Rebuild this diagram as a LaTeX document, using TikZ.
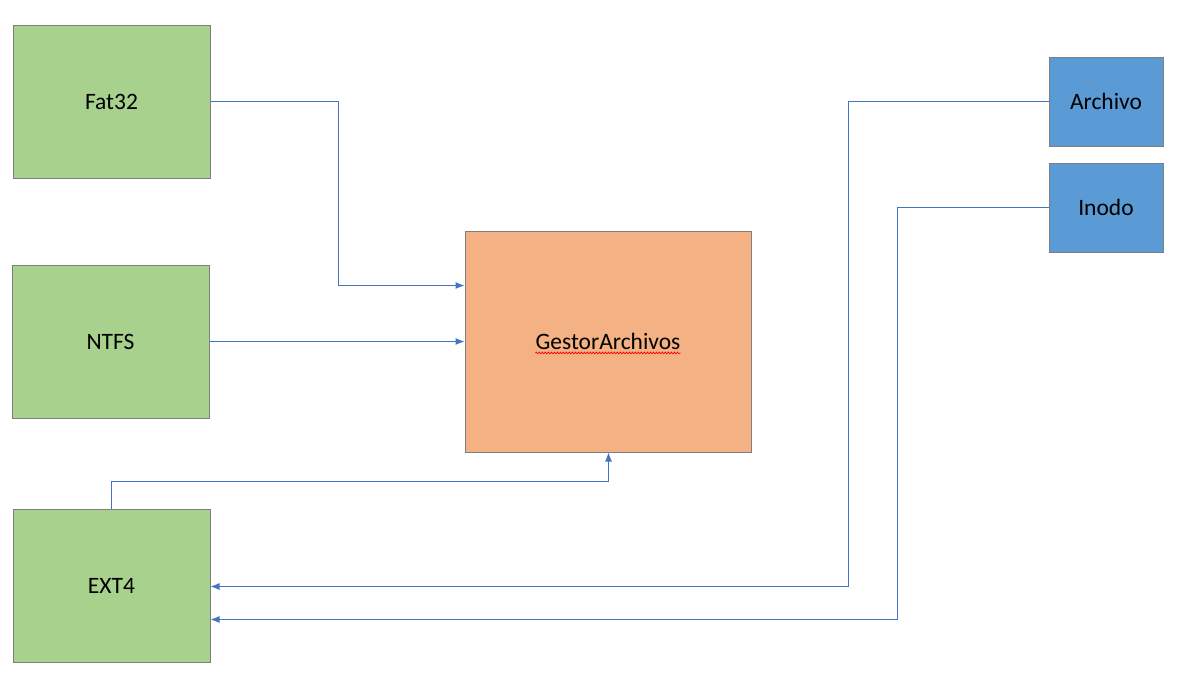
\documentclass[tikz,border=0pt]{standalone}
\usepackage{fontspec}
\setmainfont{Carlito}
\usetikzlibrary{arrows.meta,decorations.pathmorphing}
\definecolor{boxgreen}{HTML}{A9D18E}
\definecolor{boxorange}{HTML}{F4B183}
\definecolor{boxblue}{HTML}{5B9BD5}
\definecolor{boxline}{HTML}{7F7F7F}
\definecolor{connblue}{HTML}{4472C4}
\begin{document}
\begin{tikzpicture}[x=1pt,y=-1pt,
  box/.style={draw=boxline, line width=1pt, inner sep=0pt, font=\fontsize{23.5}{28}\selectfont},
  fsbox/.style={box, fill=boxgreen, minimum width=197pt, minimum height=153pt},
  gestbox/.style={box, fill=boxorange, minimum width=286pt, minimum height=221pt},
  clsbox/.style={box, fill=boxblue, minimum width=114pt, minimum height=89pt},
  conn/.style={draw=connblue, line width=1.1pt},
  arr/.style={conn, -{Latex[length=9pt,width=7pt]}}]
\useasboundingbox (0,0) rectangle (1201,673);
\node[fsbox] (fat) at (111.5,101.5) {Fat32};
\node[fsbox] (ntfs) at (110.5,341.5) {NTFS};
\node[fsbox] (ext) at (111.5,585.5) {EXT4};
\node[gestbox] (gest) at (608,341.5) {};
\node[font=\fontsize{23.5}{28}\selectfont, inner sep=0pt] (gtext) at (608,341.5) {GestorArchivos};
\draw[red, line width=0.7pt, decorate, decoration={snake, amplitude=0.9pt, segment length=3pt}] (gtext.south west) ++(0,3) coordinate (sq1) -- (sq1 -| gtext.south east);
\node[clsbox] (arch) at (1106,101.5) {Archivo};
\node[clsbox] (inodo) at (1106,207.5) {Inodo};
\coordinate (fj) at (338.5,285.5);
\coordinate (ej) at (608.5,481.5);
\coordinate (aj) at (848.5,586.5);
\coordinate (ij) at (897.5,619.5);
\draw[arr] (fat.east) -| (fj) -- (fj -| gest.west);
\draw[arr] (ntfs.east) -- (ntfs.east -| gest.west);
\draw[arr] (ext.north) |- (ej) -- (ej |- gest.south);
\draw[arr] (arch.west) -| (aj) -- (aj -| ext.east);
\draw[arr] (inodo.west) -| (ij) -- (ij -| ext.east);
\end{tikzpicture}
\end{document}
